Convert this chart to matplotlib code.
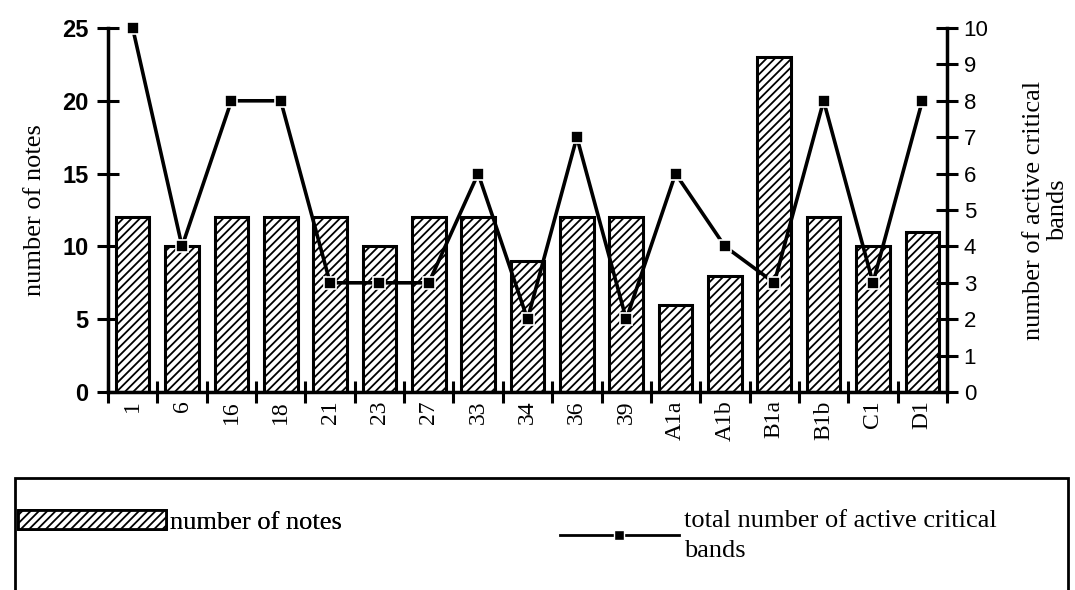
import numpy as np
import matplotlib
matplotlib.use('Agg')
import matplotlib.pyplot as plt
from matplotlib.patches import Rectangle, Patch
from matplotlib.lines import Line2D

# chart data
categories = ['1', '6', '16', '18', '21', '23', '27', '33', '34', '36', '39',
              'A1a', 'A1b', 'B1a', 'B1b', 'C1', 'D1']
notes = [12, 10, 12, 12, 12, 10, 12, 12, 9, 12, 12, 6, 8, 23, 12, 10, 11]
bands = [10, 4, 8, 8, 3, 3, 3, 6, 2, 7, 2, 6, 4, 3, 8, 3, 8]

serif = ['Liberation Serif', 'DejaVu Serif']
sans = ['Liberation Sans', 'DejaVu Sans']

plt.rcParams['hatch.linewidth'] = 1.3

fig = plt.figure(figsize=(10.75, 5.9), dpi=100)
ax = fig.add_axes([108 / 1075, 1 - 392 / 590, (947 - 108) / 1075, (392 - 28) / 590])

x = np.arange(len(categories))
ax.bar(x, notes, width=0.68, color='white', edgecolor='black',
       linewidth=2.2, hatch='////', zorder=2)
ax.set_xlim(-0.5, len(categories) - 0.5)
ax.set_ylim(0, 25)
ax.set_yticks(range(0, 26, 5))
ax.set_yticklabels([str(v) for v in range(0, 26, 5)], fontfamily=sans,
                   fontsize=17, fontweight='bold')

# ticks on category boundaries, labels at category centres
ax.set_xticks(np.arange(-0.5, len(categories), 1))
ax.set_xticklabels([])
ax.set_xticks(x, minor=True)
ax.set_xticklabels(categories, minor=True, rotation=90, fontfamily=serif,
                   fontsize=17)
ax.tick_params(axis='x', which='major', direction='inout', length=16, width=2.2)
ax.tick_params(axis='x', which='minor', length=0, pad=6)
ax.tick_params(axis='y', direction='inout', length=16, width=2.2, pad=6)

for side in ['top', 'right']:
    ax.spines[side].set_visible(False)
for side in ['left', 'bottom']:
    ax.spines[side].set_linewidth(2.5)

ax.set_ylabel('number of notes', fontfamily=serif, fontsize=19, labelpad=12)

ax2 = ax.twinx()
ax2.plot(x, bands, color='black', linewidth=2.6, marker='s', markersize=8,
         markerfacecolor='black', markeredgecolor='white', markeredgewidth=1.2,
         zorder=3, clip_on=False)
ax2.set_ylim(0, 10)
ax2.set_yticks(range(0, 11))
ax2.set_yticklabels([str(v) for v in range(0, 11)], fontfamily=sans,
                    fontsize=16)
ax2.tick_params(axis='y', direction='inout', length=16, width=2.2, pad=4)
for side in ['top', 'left', 'bottom']:
    ax2.spines[side].set_visible(False)
ax2.spines['right'].set_linewidth(2.5)
ax2.set_ylabel('number of active critical\nbands', fontfamily=serif,
               fontsize=19, labelpad=25, linespacing=1.1)

# legend box running off the bottom edge
fig.patches.append(Rectangle((15 / 1075, -0.05), (1068 - 15) / 1075,
                             1 - 478 / 590 + 0.05, transform=fig.transFigure,
                             fill=False, edgecolor='black', linewidth=2))

h1 = Patch(facecolor='white', edgecolor='black', hatch='////', linewidth=2)
leg1 = fig.legend([h1], ['number of notes'], loc='upper left',
                  bbox_to_anchor=(18 / 1075, 1 - 510 / 590), frameon=False,
                  prop={'family': serif, 'size': 19}, handlelength=5.6,
                  handleheight=0.75, handletextpad=0.15, borderpad=0,
                  borderaxespad=0)
h2 = Line2D([], [], color='black', linewidth=2, marker='s', markersize=7,
            markerfacecolor='black', markeredgecolor='white')
leg2 = fig.legend([h2], ['total number of active critical\nbands'],
                  loc='upper left', bbox_to_anchor=(560 / 1075, 1 - 510 / 590),
                  frameon=False, prop={'family': serif, 'size': 19},
                  handlelength=4.5, numpoints=1, handletextpad=0.2,
                  borderpad=0, borderaxespad=0)
for t in leg2.get_texts():
    t.set_linespacing(1.45)
fig.add_artist(leg1)

fig.savefig('out.png', dpi=100)
